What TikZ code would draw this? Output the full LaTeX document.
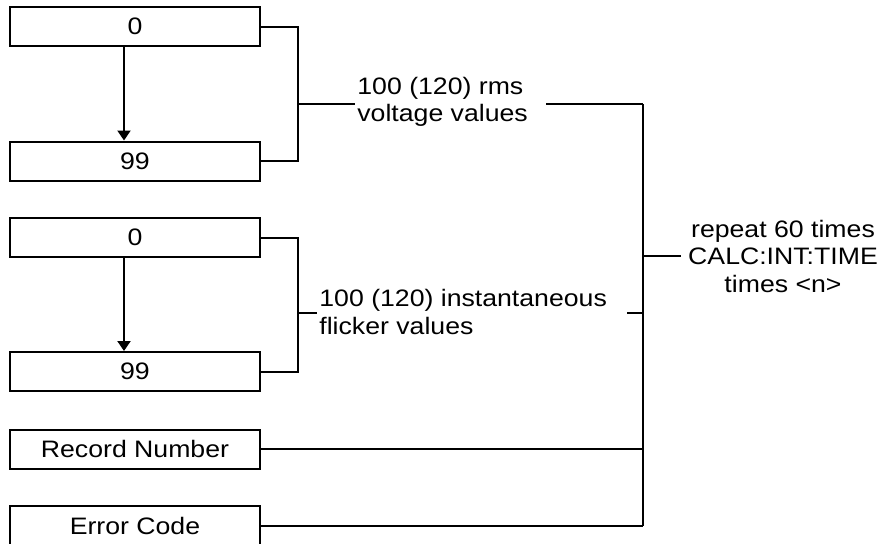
\documentclass[tikz,border=0pt]{standalone}
\usepackage{fontspec}
\setmainfont{Liberation Sans}[FakeStretch=1.12]
\usetikzlibrary{arrows.meta}

\tikzset{
  recbox/.style={draw, line width=1pt, minimum width=125pt, minimum height=19.5pt, inner sep=0pt},
  note/.style={align=left, inner sep=0pt},
  wire/.style={line width=1pt},
}

\begin{document}
\begin{tikzpicture}[x=0.5pt, y=-0.5pt, font=\fontsize{11.9pt}{13.75pt}\selectfont]
  \useasboundingbox (0,0) rectangle (882,543);
  \node[recbox] (rms0) at (135,26.5) {0};
  \node[recbox] (rms99) at (135,161) {99};
  \node[recbox] (flk0) at (135,237.5) {0};
  \node[recbox] (flk99) at (135,371.5) {99};
  \node[recbox] (recno) at (135,449) {Record Number};
  \node[recbox] (errcode) at (135,525.5) {Error Code};
  \node[note, anchor=west] (rmstxt) at (357,102) {100 (120) rms\\voltage values};
  \node[note, anchor=west] (flktxt) at (319,312) {100 (120) instantaneous\\flicker values};
  \node[align=center, inner sep=0pt] (rep) at (783,256) {repeat 60 times\\CALC:INT:TIME\\times <n>};
  \coordinate (rmsjoin) at (298,104);
  \coordinate (flkjoin) at (298,313);
  \coordinate (bustop) at (643,104);
  \begin{scope}[wire]
    \draw[-{Triangle[width=6.5pt,length=5pt]}] ([xshift=-5.5pt]rms0.south) -- ([xshift=-5.5pt]rms99.north);
    \draw[-{Triangle[width=6.5pt,length=5pt]}] ([xshift=-5.5pt]flk0.south) -- ([xshift=-5.5pt]flk99.north);
    \draw (rms0.east) -| (rmsjoin) |- (rms99.east);
    \draw (flk0.east) -| (flkjoin) |- (flk99.east);
    \draw (rmsjoin) -- ([xshift=-1pt]rmsjoin -| rmstxt.west);
    \draw (flkjoin) -- ([xshift=-1pt]flkjoin -| flktxt.west);
    \draw ([xshift=9pt]rmstxt.east |- rmsjoin) -- (bustop);
    \draw ([xshift=10pt]flktxt.east |- flkjoin) -- (flkjoin -| bustop);
    \draw (bustop) -- (bustop |- errcode.east);
    \draw (recno.east) -- (recno.east -| bustop);
    \draw (errcode.east) -- (errcode.east -| bustop);
    \draw (bustop |- rep) -- ([xshift=-3.5pt]rep.west);
  \end{scope}
\end{tikzpicture}
\end{document}
